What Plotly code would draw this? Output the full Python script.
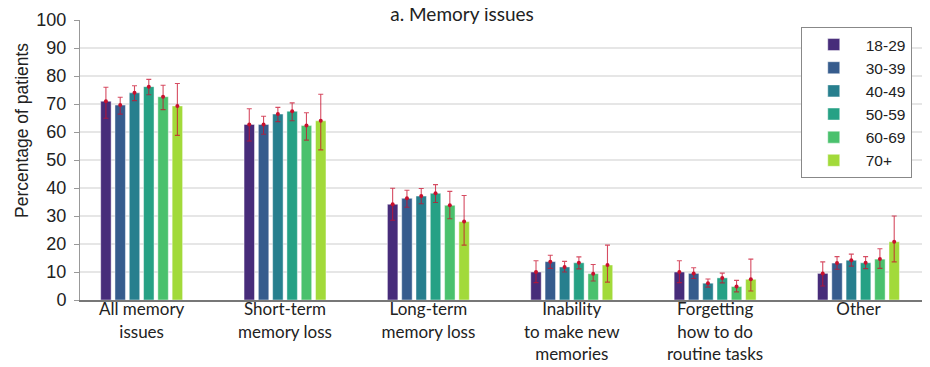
import plotly.graph_objects as go

# ---- data ----
categories = ["All memory<br>issues", "Short-term<br>memory loss", "Long-term<br>memory loss",
              "Inability<br>to make new<br>memories", "Forgetting<br>how to do<br>routine tasks", "Other"]
age_groups = ["18-29", "30-39", "40-49", "50-59", "60-69", "70+"]

pct_18_29 = [71.0, 62.7, 34.2, 10.0, 10.0, 9.5]
pct_30_39 = [69.6, 62.7, 36.3, 13.7, 9.5, 13.2]
pct_40_49 = [74.0, 66.4, 37.1, 11.8, 6.0, 14.2]
pct_50_59 = [76.2, 67.4, 38.1, 13.3, 7.9, 13.3]
pct_60_69 = [72.6, 62.3, 33.8, 9.4, 4.8, 14.6]
pct_70p = [69.3, 64.0, 28.0, 12.5, 7.4, 20.8]

hi_18_29 = [76.0, 68.3, 39.9, 14.0, 14.0, 13.6]
hi_30_39 = [72.4, 65.6, 39.2, 16.0, 11.5, 15.5]
hi_40_49 = [76.5, 68.8, 39.8, 13.8, 7.5, 16.4]
hi_50_59 = [78.8, 70.4, 41.2, 15.4, 9.6, 15.5]
hi_60_69 = [76.7, 66.9, 38.8, 12.7, 7.0, 18.3]
hi_70p = [77.3, 73.5, 37.3, 19.6, 14.6, 30.0]

lo_18_29 = [64.9, 56.8, 28.5, 6.2, 6.2, 5.0]
lo_30_39 = [66.4, 59.2, 33.1, 11.3, 7.7, 11.0]
lo_40_49 = [71.2, 63.7, 34.4, 10.0, 4.6, 12.1]
lo_50_59 = [73.3, 64.0, 34.8, 11.1, 6.1, 11.2]
lo_60_69 = [68.0, 57.1, 29.0, 6.8, 2.9, 11.3]
lo_70p = [58.8, 53.6, 19.6, 6.4, 3.2, 13.6]

values = [pct_18_29, pct_30_39, pct_40_49, pct_50_59, pct_60_69, pct_70p]
uppers = [hi_18_29, hi_30_39, hi_40_49, hi_50_59, hi_60_69, hi_70p]
lowers = [lo_18_29, lo_30_39, lo_40_49, lo_50_59, lo_60_69, lo_70p]

colors = ["#472c7a", "#365c8d", "#277f8e", "#26a185", "#4ac16d", "#a2da3a"]

SLOT = 0.0997
BAR_W = 0.073
ERR_COLOR = "rgba(200,16,46,0.75)"

fig = go.Figure()
n = len(age_groups)
for k, (name, vals, up, lo, col) in enumerate(zip(age_groups, values, uppers, lowers, colors)):
    xs = [i + (k - (n - 1) / 2) * SLOT for i in range(len(categories))]
    fig.add_trace(go.Bar(
        x=xs, y=vals, width=BAR_W, name=name,
        marker=dict(color=col, line=dict(color="rgba(255,255,255,0.45)", width=1)),
    ))
    fig.add_trace(go.Scatter(
        x=xs, y=vals, mode="markers", showlegend=False, hoverinfo="skip",
        marker=dict(color="#c8102e", size=4),
        error_y=dict(type="data", symmetric=False,
                     array=[u - v for u, v in zip(up, vals)],
                     arrayminus=[v - l for v, l in zip(vals, lo)],
                     color=ERR_COLOR, thickness=1.1, width=2.5),
    ))

# the page body adds an 8px offset; margins compensate for it
fig.update_layout(
    width=930, height=367,
    margin=dict(l=72, r=11, t=12, b=75, autoexpand=False),
    barmode="overlay",
    paper_bgcolor="white", plot_bgcolor="rgba(0,0,0,0)",
    font=dict(family="Liberation Sans, Arial, sans-serif", color="#222", size=18),
    title=dict(text="a. Memory issues", xref="container", yref="container",
               x=454 / 930, xanchor="center", y=1 - 6 / 367, yanchor="middle",
               automargin=False,
               font=dict(family="Lato, sans-serif", size=19, color="#222")),
    showlegend=True,
    legend=dict(x=0.982, xanchor="right", y=0.975, yanchor="top",
                bordercolor="#888", borderwidth=1, bgcolor="white",
                font=dict(family="Liberation Sans, Arial, sans-serif", size=15.5, color="#222"),
                itemwidth=54, tracegroupgap=0),
    xaxis=dict(range=[-0.430, 5.478], tickvals=list(range(len(categories))), ticktext=categories,
               automargin=False,
               showgrid=False, zeroline=False, showline=True, linecolor="#777", linewidth=2,
               ticks="", ticklabelstandoff=-7,
               tickfont=dict(family="Lato, sans-serif", size=17, color="#222")),
    yaxis=dict(range=[0, 100], dtick=10, showgrid=True, gridcolor="#e6e6e6", gridwidth=1.5,
               automargin=False,
               zeroline=False, showline=True, linecolor="#999", linewidth=1,
               ticks="outside", ticklen=5, tickcolor="#999", ticklabelstandoff=4,
               tickfont=dict(size=18, color="#222")),
    annotations=[dict(text="Percentage of patients", textangle=-90,
                      xref="paper", yref="paper", x=(22 - 80) / 847, y=(300 - 131) / 280,
                      xanchor="center", yanchor="middle", showarrow=False,
                      font=dict(size=17.5, color="#222"))],
)

fig.write_html("out.html")
